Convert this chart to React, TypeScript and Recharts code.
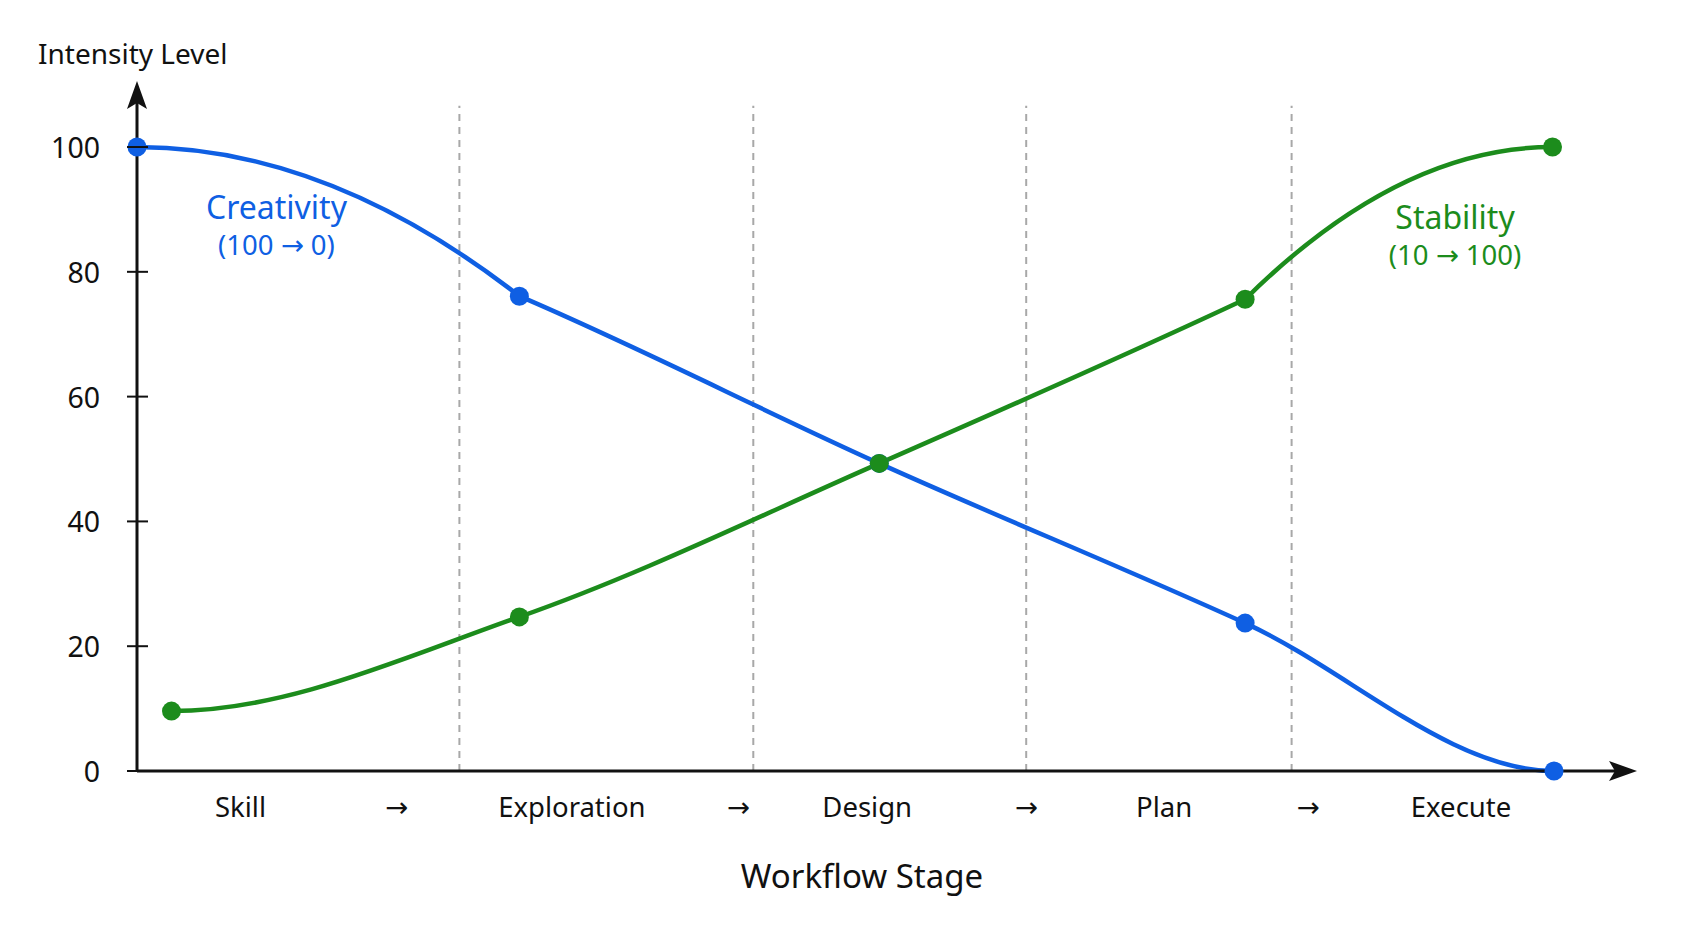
import { ComposedChart, Line, XAxis, YAxis, ReferenceLine, ReferenceDot } from "recharts";

const C = {
  blue: "#0f5fe3",
  green: "#1c8c1c",
  ink: "#111111",
  dash: "#a8a8a8",
};
const FONT = "'Noto Sans', 'DejaVu Sans', sans-serif";

// stage axis: positions along the x scale (0..99.5) and their labels
const stagePositions = [6.9, 17.3, 29.0, 40.1, 48.7, 59.3, 68.5, 78.1, 88.3];
const stageLabels = ["Skill", "→", "Exploration", "→", "Design", "→", "Plan", "→", "Execute"];
const dividerPositions = [21.5, 41.1, 59.3, 77.0];

const yTicks = [0, 20, 40, 60, 80, 100];

const creativityX = [0, 25.5, 49.5, 73.9, 94.5];
const creativityValues = [100, 76.1, 49.3, 23.7, 0];
const stabilityX = [2.3, 25.5, 49.5, 73.9, 94.4];
const stabilityValues = [9.6, 24.7, 49.3, 75.6, 100];

const annotations = [
  { x: 9.3, y: 90.4, title: "Creativity", sub: "(100 → 0)", color: C.blue },
  { x: 87.9, y: 88.8, title: "Stability", sub: "(10 → 100)", color: C.green },
];

const creativity = creativityX.map((x, i) => ({ x, y: creativityValues[i] }));
const stability = stabilityX.map((x, i) => ({ x, y: stabilityValues[i] }));

// Hermite curve, flat at both ends, Catmull-Rom tangents inside.
// parabolicStart / parabolicEnd turn the first / last segment into a parabola.
function makeCurve(opts: { parabolicStart?: boolean; parabolicEnd?: boolean }) {
  return (context: any) => {
    let xs: number[] = [];
    let ys: number[] = [];
    return {
      areaStart() {},
      areaEnd() {},
      lineStart() {
        xs = [];
        ys = [];
      },
      point(x: number, y: number) {
        xs.push(+x);
        ys.push(+y);
      },
      lineEnd() {
        const n = xs.length;
        if (!n) return;
        context.moveTo(xs[0], ys[0]);
        const m = xs.map((_, i) =>
          i === 0 || i === n - 1 ? 0 : (ys[i + 1] - ys[i - 1]) / (xs[i + 1] - xs[i - 1])
        );
        const mOut = [...m];
        const mIn = [...m];
        if (n > 2 && opts.parabolicStart) mIn[1] = (2 * (ys[1] - ys[0])) / (xs[1] - xs[0]);
        if (n > 2 && opts.parabolicEnd)
          mOut[n - 2] = (2 * (ys[n - 1] - ys[n - 2])) / (xs[n - 1] - xs[n - 2]);
        for (let i = 0; i < n - 1; i++) {
          const h = (xs[i + 1] - xs[i]) / 3;
          context.bezierCurveTo(
            xs[i] + h,
            ys[i] + mOut[i] * h,
            xs[i + 1] - h,
            ys[i + 1] - mIn[i + 1] * h,
            xs[i + 1],
            ys[i + 1]
          );
        }
      },
    };
  };
}

const creativityCurve = makeCurve({ parabolicStart: true });
const stabilityCurve = makeCurve({ parabolicEnd: true });

function YTick({ x, y, payload }: any) {
  return (
    <g>
      <line x1={x + 27} x2={x + 48} y1={y} y2={y} stroke={C.ink} strokeWidth={2} />
      <text
        x={x}
        y={y}
        textAnchor="end"
        dominantBaseline="central"
        fill={C.ink}
        fontSize={28.5}
        fontFamily={FONT}
      >
        {payload.value}
      </text>
    </g>
  );
}

function XTick({ x, y, payload }: any) {
  const idx = stagePositions.indexOf(payload.value);
  return (
    <text
      x={x}
      y={y}
      textAnchor="middle"
      dominantBaseline="central"
      fill={C.ink}
      fontSize={27.5}
      fontFamily={FONT}
    >
      {stageLabels[idx]}
    </text>
  );
}

function Annotation({ viewBox, title, sub, color }: any) {
  const cx = viewBox.x + viewBox.width / 2;
  const cy = viewBox.y + viewBox.height / 2;
  return (
    <g fill={color} fontFamily={FONT} textAnchor="middle">
      <text x={cx} y={cy} dominantBaseline="central" fontSize={32}>
        {title}
      </text>
      <text x={cx} y={cy + 38} dominantBaseline="central" fontSize={27.5}>
        {sub}
      </text>
    </g>
  );
}

export default function App() {
  return (
    <ComposedChart
      width={1677}
      height={900}
      margin={{ top: 81, right: 56, bottom: 37, left: 0 }}
      style={{ background: "#fff" }}
    >
      <defs>
        <marker
          id="axisArrow"
          viewBox="0 0 28 20"
          refX={20}
          refY={10}
          markerWidth={28}
          markerHeight={20}
          markerUnits="userSpaceOnUse"
          orient="auto-start-reverse"
        >
          <path d="M0,0 L28,10 L0,20 L6,10 Z" fill={C.ink} />
        </marker>
      </defs>

      <XAxis
        type="number"
        dataKey="x"
        domain={[0, 99.5]}
        ticks={stagePositions}
        interval={0}
        tick={<XTick />}
        tickLine={false}
        tickSize={0}
        tickMargin={35}
        height={100}
        axisLine={{ stroke: C.ink, strokeWidth: 3, markerEnd: "url(#axisArrow)" }}
      />
      <YAxis
        type="number"
        domain={[0, 109.3]}
        ticks={yTicks}
        interval={0}
        width={129}
        tick={<YTick />}
        tickLine={false}
        tickSize={10}
        tickMargin={27}
        axisLine={{ stroke: C.ink, strokeWidth: 3, markerStart: "url(#axisArrow)" }}
      />

      {dividerPositions.map((d) => (
        <ReferenceLine
          key={d}
          segment={[
            { x: d, y: 0 },
            { x: d, y: 106.6 },
          ]}
          stroke={C.dash}
          strokeWidth={2}
          strokeDasharray="7 6"
        />
      ))}

      <Line
        data={creativity}
        dataKey="y"
        type={creativityCurve as any}
        stroke={C.blue}
        strokeWidth={4.5}
        dot={{ r: 9.5, fill: C.blue, stroke: C.blue, strokeWidth: 0 }}
        activeDot={false}
        isAnimationActive={false}
      />
      <Line
        data={stability}
        dataKey="y"
        type={stabilityCurve as any}
        stroke={C.green}
        strokeWidth={4.5}
        dot={{ r: 9.5, fill: C.green, stroke: C.green, strokeWidth: 0 }}
        activeDot={false}
        isAnimationActive={false}
      />

      {annotations.map((a) => (
        <ReferenceDot
          key={a.title}
          x={a.x}
          y={a.y}
          r={0}
          fill="none"
          stroke="none"
          label={{ content: (p: any) => <Annotation {...p} title={a.title} sub={a.sub} color={a.color} /> }}
        />
      ))}

      <text x={30} y={45} dominantBaseline="central" fontSize={28} fontFamily={FONT} fill={C.ink}>
        Intensity Level
      </text>
      <text
        x={854}
        y={867}
        textAnchor="middle"
        dominantBaseline="central"
        fontSize={33}
        fontFamily={FONT}
        fill={C.ink}
      >
        Workflow Stage
      </text>
    </ComposedChart>
  );
}
